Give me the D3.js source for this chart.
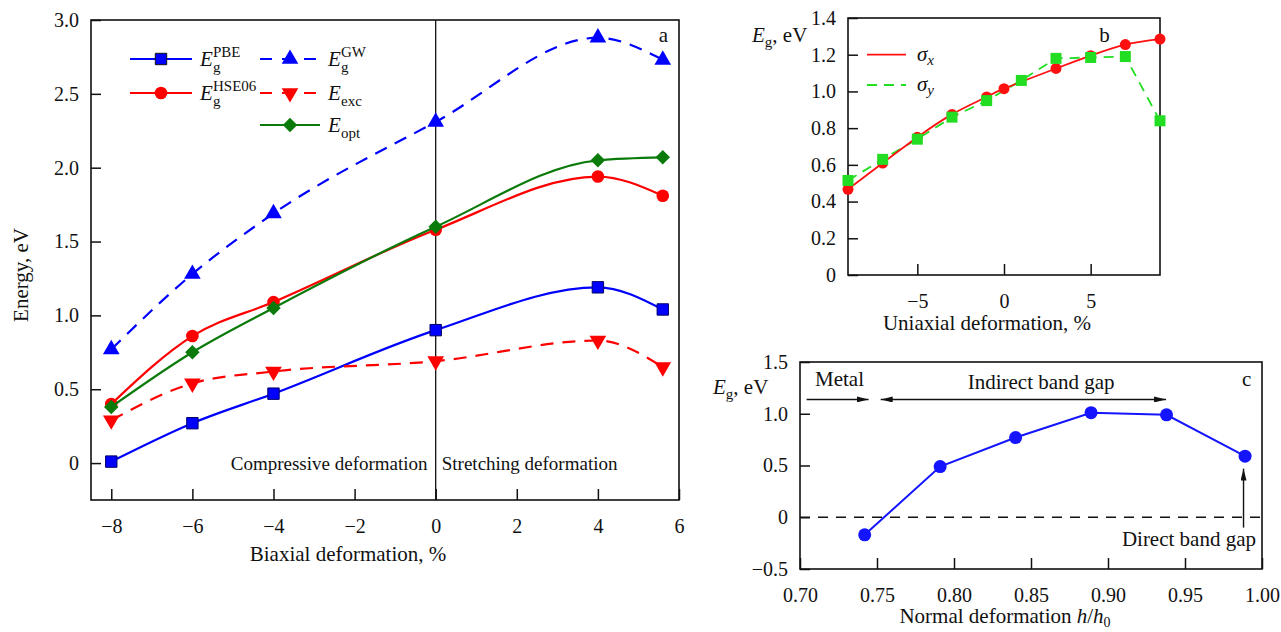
<!DOCTYPE html>
<html>
<head>
<meta charset="utf-8">
<script src="https://cdn.jsdelivr.net/npm/d3@7"></script>
<style>
body { margin: 0; background: #fff; }
svg text { font-family: "Liberation Serif", "Times New Roman", serif; fill: #111; }
</style>
</head>
<body>
<div id="chart"></div>
<script>

// panel a: biaxial deformation
var biaxX = [-8, -6, -4, 0, 4, 5.6];
var pbeVals = [0.01, 0.27, 0.47, 0.90, 1.19, 1.04];
var hseVals = [0.40, 0.86, 1.09, 1.58, 1.94, 1.81];
var gwVals = [0.77, 1.28, 1.69, 2.31, 2.88, 2.73];
var excVals = [0.29, 0.54, 0.62, 0.69, 0.83, 0.65];
var optVals = [0.38, 0.75, 1.05, 1.60, 2.05, 2.07];
var biaxTicks = [-8, -6, -4, -2, 0, 2, 4, 6];
var energyTicks = [0, 0.5, 1.0, 1.5, 2.0, 2.5, 3.0];

// panel b: uniaxial deformation
var sigmaXx = [-9, -7, -5, -3, -1, 0, 3, 5, 7, 9];
var sigmaXVals = [0.467, 0.61, 0.75, 0.875, 0.97, 1.015, 1.125, 1.195, 1.255, 1.285];
var sigmaYx = [-9, -7, -5, -3, -1, 1, 3, 5, 7, 9];
var sigmaYVals = [0.515, 0.63, 0.74, 0.86, 0.95, 1.06, 1.18, 1.185, 1.19, 0.84];
var uniTicks = [-5, 0, 5];
var gapTicksB = [0, 0.2, 0.4, 0.6, 0.8, 1.0, 1.2, 1.4];

// panel c: normal deformation
var normX = [0.742, 0.791, 0.84, 0.889, 0.938, 0.989];
var normVals = [-0.17, 0.49, 0.77, 1.01, 0.99, 0.59];
var normTicks = [0.70, 0.75, 0.80, 0.85, 0.90, 0.95, 1.00];
var gapTicksC = [-0.5, 0, 0.5, 1.0, 1.5];

var svg = d3.select("#chart")
    .append("svg")
    .attr("width", 1281)
    .attr("height", 632);

var defs = svg.append("defs");
defs.append("marker")
    .attr("id", "arrow")
    .attr("viewBox", "0 0 12 6")
    .attr("refX", 12)
    .attr("refY", 3)
    .attr("markerWidth", 12)
    .attr("markerHeight", 6)
    .attr("markerUnits", "userSpaceOnUse")
    .attr("orient", "auto-start-reverse")
    .append("path")
    .attr("d", "M0,0L12,3L0,6Z")
    .attr("fill", "#111");

function fmtNum(d) {
    if (d === 0) return "0";
    return d3.format(".1f")(d);
}

function makeAxes(box, x, y, xTicks, yTicks, xFmt, yFmt, xTick, yTick) {
    svg.append("g")
        .attr("transform", `translate(0, ${box.bottom})`)
        .call(d3.axisBottom(x).tickValues(xTicks).tickFormat(xFmt)
            .tickSize(-xTick).tickSizeOuter(0).tickPadding(19))
        .call(g => g.select(".domain").remove())
        .attr("font-size", 20)
        .attr("color", "#111")
        .selectAll("line").attr("stroke-width", 1.5);

    svg.append("g")
        .attr("transform", `translate(${box.left}, 0)`)
        .call(d3.axisLeft(y).tickValues(yTicks).tickFormat(yFmt)
            .tickSize(-yTick).tickSizeOuter(0).tickPadding(12))
        .call(g => g.select(".domain").remove())
        .attr("font-size", 20)
        .attr("color", "#111")
        .selectAll("line").attr("stroke-width", 1.5);

    svg.append("rect")
        .attr("x", box.left)
        .attr("y", box.top)
        .attr("width", box.right - box.left)
        .attr("height", box.bottom - box.top)
        .attr("fill", "none")
        .attr("stroke", "#111")
        .attr("stroke-width", 1.6);
}

function eLabel(x, yb, sub, sup, size, subSize) {
    svg.append("text").attr("x", x).attr("y", yb)
        .attr("font-size", size).attr("font-style", "italic").text("E");
    if (sub) svg.append("text").attr("x", x + size * 0.62).attr("y", yb + size * 0.28)
        .attr("font-size", subSize).text(sub);
    if (sup) svg.append("text").attr("x", x + size * 0.62).attr("y", yb - size * 0.45)
        .attr("font-size", subSize).text(sup);
}

function symbolPath(type, size) {
    return d3.symbol().type(type).size(size)();
}

// ---------- panel a ----------
var boxA = {left: 91, right: 679, top: 20, bottom: 500};
var xA = d3.scaleLinear().domain([-8.5, 6]).range([boxA.left, boxA.right]);
var yA = d3.scaleLinear().domain([-0.25, 3.0]).range([boxA.bottom, boxA.top]);

makeAxes(boxA, xA, yA, biaxTicks, energyTicks, d3.format("d"), fmtNum, 11, 10);

svg.append("line")
    .attr("x1", xA(0)).attr("x2", xA(0))
    .attr("y1", boxA.top).attr("y2", boxA.bottom)
    .attr("stroke", "#111")
    .attr("stroke-width", 1.3);

var seriesA = [
    {vals: pbeVals, color: "#0000ff", dash: null, sym: d3.symbolSquare, size: 130, rot: 0, stroke: "#000066"},
    {vals: hseVals, color: "#ff0000", dash: null, sym: d3.symbolCircle, size: 125, rot: 0, stroke: "none"},
    {vals: gwVals, color: "#0000ff", dash: "13,9", sym: d3.symbolTriangle, size: 120, rot: 0, stroke: "none"},
    {vals: excVals, color: "#ff0000", dash: "13,9", sym: d3.symbolTriangle, size: 120, rot: 180, stroke: "none"},
    {vals: optVals, color: "#0a7a0a", dash: null, sym: d3.symbolSquare, size: 105, rot: 45, stroke: "none"}
];

seriesA.forEach(function(s) {
    var line = d3.line()
        .x((d, i) => xA(biaxX[i]))
        .y(d => yA(d))
        .curve(d3.curveMonotoneX);

    svg.append("path")
        .attr("d", line(s.vals))
        .attr("fill", "none")
        .attr("stroke", s.color)
        .attr("stroke-width", 2.2)
        .attr("stroke-dasharray", s.dash);

    svg.append("g").selectAll("path")
        .data(s.vals)
        .enter()
        .append("path")
        .attr("d", symbolPath(s.sym, s.size))
        .attr("transform", (d, i) => `translate(${xA(biaxX[i])}, ${yA(d)}) rotate(${s.rot})`)
        .attr("fill", s.color)
        .attr("stroke", s.stroke)
        .attr("stroke-width", 1);
});

// legend panel a
var legendA = [
    {s: 0, x1: 130, x2: 192, y: 59, sub: "g", sup: "PBE"},
    {s: 1, x1: 130, x2: 192, y: 93, sub: "g", sup: "HSE06"},
    {s: 2, x1: 260, x2: 320, y: 59, sub: "g", sup: "GW"},
    {s: 3, x1: 260, x2: 320, y: 93, sub: "exc", sup: null},
    {s: 4, x1: 260, x2: 320, y: 125, sub: "opt", sup: null}
];

legendA.forEach(function(l) {
    var s = seriesA[l.s];
    svg.append("line")
        .attr("x1", l.x1).attr("x2", l.x2)
        .attr("y1", l.y).attr("y2", l.y)
        .attr("stroke", s.color)
        .attr("stroke-width", 2.2)
        .attr("stroke-dasharray", s.dash ? "12,10" : null);
    svg.append("path")
        .attr("d", symbolPath(s.sym, s.size))
        .attr("transform", `translate(${(l.x1 + l.x2) / 2}, ${l.y}) rotate(${s.rot})`)
        .attr("fill", s.color)
        .attr("stroke", s.stroke === "none" ? "none" : "#111")
        .attr("stroke-width", 1);
    eLabel(l.x2 + 8, l.y + 7, l.sub, l.sup, 21, 15);
});

svg.append("text")
    .attr("x", xA(-0.2)).attr("y", yA(-0.05))
    .attr("text-anchor", "end")
    .attr("font-size", 19)
    .text("Compressive deformation");

svg.append("text")
    .attr("x", xA(0.15)).attr("y", yA(-0.05))
    .attr("font-size", 19)
    .text("Stretching deformation");

svg.append("text")
    .attr("x", xA(5.5)).attr("y", yA(2.85))
    .attr("font-size", 21)
    .text("a");

svg.append("text")
    .attr("x", 348).attr("y", 561)
    .attr("text-anchor", "middle")
    .attr("font-size", 21)
    .text("Biaxial deformation, %");

svg.append("text")
    .attr("transform", "translate(28, 275) rotate(-90)")
    .attr("text-anchor", "middle")
    .attr("font-size", 21)
    .text("Energy, eV");

// ---------- panel b ----------
var boxB = {left: 848, right: 1160, top: 18, bottom: 275};
var xB = d3.scaleLinear().domain([-9, 9]).range([boxB.left, boxB.right]);
var yB = d3.scaleLinear().domain([0, 1.4]).range([boxB.bottom, boxB.top]);

makeAxes(boxB, xB, yB, uniTicks, gapTicksB, d3.format("d"), fmtNum, 11, 10);

var lineBx = d3.line().x((d, i) => xB(sigmaXx[i])).y(d => yB(d)).curve(d3.curveNatural);
var lineBy = d3.line().x((d, i) => xB(sigmaYx[i])).y(d => yB(d));

svg.append("path")
    .attr("d", lineBy(sigmaYVals))
    .attr("fill", "none")
    .attr("stroke", "#22dd22")
    .attr("stroke-width", 1.8)
    .attr("stroke-dasharray", "10,7");

svg.append("path")
    .attr("d", lineBx(sigmaXVals))
    .attr("fill", "none")
    .attr("stroke", "#ff1010")
    .attr("stroke-width", 1.8);

svg.append("g").selectAll("circle")
    .data(sigmaXVals)
    .enter()
    .append("circle")
    .attr("cx", (d, i) => xB(sigmaXx[i]))
    .attr("cy", d => yB(d))
    .attr("r", 5.5)
    .attr("fill", "#ff1010");

svg.append("g").selectAll("rect")
    .data(sigmaYVals)
    .enter()
    .append("rect")
    .attr("x", (d, i) => xB(sigmaYx[i]) - 5.5)
    .attr("y", d => yB(d) - 5.5)
    .attr("width", 11)
    .attr("height", 11)
    .attr("fill", "#22dd22");

// legend b
svg.append("line")
    .attr("x1", 867).attr("x2", 906).attr("y1", yB(1.2)).attr("y2", yB(1.2))
    .attr("stroke", "#ff1010").attr("stroke-width", 1.8);
svg.append("line")
    .attr("x1", 867).attr("x2", 906).attr("y1", 85).attr("y2", 85)
    .attr("stroke", "#22dd22").attr("stroke-width", 1.8).attr("stroke-dasharray", "10,7");

var sigx = svg.append("text").attr("x", 917).attr("y", 61).attr("font-size", 21).attr("font-style", "italic");
sigx.append("tspan").text("σ");
sigx.append("tspan").attr("font-size", 15).attr("dy", 4).text("x");
var sigy = svg.append("text").attr("x", 917).attr("y", 91).attr("font-size", 21).attr("font-style", "italic");
sigy.append("tspan").text("σ");
sigy.append("tspan").attr("font-size", 15).attr("dy", 4).text("y");

var egB = svg.append("text").attr("x", 752).attr("y", 42).attr("font-size", 21);
egB.append("tspan").attr("font-style", "italic").text("E");
egB.append("tspan").attr("font-size", 15).attr("dy", 5).text("g");
egB.append("tspan").attr("dy", -5).text(", eV");

svg.append("text")
    .attr("x", xB(5.5)).attr("y", yB(1.27))
    .attr("font-size", 21)
    .text("b");

svg.append("text")
    .attr("x", 987).attr("y", 330)
    .attr("text-anchor", "middle")
    .attr("font-size", 21)
    .text("Uniaxial deformation, %");

// ---------- panel c ----------
var boxC = {left: 800, right: 1262, top: 362, bottom: 569};
var xC = d3.scaleLinear().domain([0.70, 1.00]).range([boxC.left, boxC.right]);
var yC = d3.scaleLinear().domain([-0.5, 1.5]).range([boxC.bottom, boxC.top]);

makeAxes(boxC, xC, yC, normTicks, gapTicksC, d3.format(".2f"), fmtNum, 11, 10);

svg.append("line")
    .attr("x1", boxC.left).attr("x2", boxC.right)
    .attr("y1", yC(0)).attr("y2", yC(0))
    .attr("stroke", "#111")
    .attr("stroke-width", 1.4)
    .attr("stroke-dasharray", "10,8");

var lineC = d3.line().x((d, i) => xC(normX[i])).y(d => yC(d));

svg.append("path")
    .attr("d", lineC(normVals))
    .attr("fill", "none")
    .attr("stroke", "#1414ff")
    .attr("stroke-width", 2);

svg.append("g").selectAll("circle")
    .data(normVals)
    .enter()
    .append("circle")
    .attr("cx", (d, i) => xC(normX[i]))
    .attr("cy", d => yC(d))
    .attr("r", 6.5)
    .attr("fill", "#1414ff");

// arrows c
svg.append("line")
    .attr("x1", xC(0.7043)).attr("x2", xC(0.7445))
    .attr("y1", yC(1.138)).attr("y2", yC(1.138))
    .attr("stroke", "#111").attr("stroke-width", 1.4)
    .attr("marker-end", "url(#arrow)");
svg.append("line")
    .attr("x1", xC(0.7524)).attr("x2", xC(0.9377))
    .attr("y1", yC(1.138)).attr("y2", yC(1.138))
    .attr("stroke", "#111").attr("stroke-width", 1.4)
    .attr("marker-start", "url(#arrow)")
    .attr("marker-end", "url(#arrow)");
svg.append("line")
    .attr("x1", xC(0.988)).attr("x2", xC(0.988))
    .attr("y1", yC(-0.1)).attr("y2", yC(0.47))
    .attr("stroke", "#111").attr("stroke-width", 1.4)
    .attr("marker-end", "url(#arrow)");

svg.append("text")
    .attr("x", 815).attr("y", 386)
    .attr("font-size", 21)
    .text("Metal");
svg.append("text")
    .attr("x", xC(0.8566)).attr("y", 389)
    .attr("text-anchor", "middle")
    .attr("font-size", 21)
    .text("Indirect band gap");
svg.append("text")
    .attr("x", 1256).attr("y", 546)
    .attr("text-anchor", "end")
    .attr("font-size", 21)
    .text("Direct band gap");
svg.append("text")
    .attr("x", 1242).attr("y", 386)
    .attr("font-size", 21)
    .text("c");

var egC = svg.append("text").attr("x", 713).attr("y", 394).attr("font-size", 21);
egC.append("tspan").attr("font-style", "italic").text("E");
egC.append("tspan").attr("font-size", 15).attr("dy", 5).text("g");
egC.append("tspan").attr("dy", -5).text(", eV");

var titleC = svg.append("text").attr("x", 1005).attr("y", 623).attr("text-anchor", "middle").attr("font-size", 21);
titleC.append("tspan").text("Normal deformation ");
titleC.append("tspan").attr("font-style", "italic").text("h");
titleC.append("tspan").text("/");
titleC.append("tspan").attr("font-style", "italic").text("h");
titleC.append("tspan").attr("font-size", 14).attr("dy", 4).text("0");

</script>
</body>
</html>
